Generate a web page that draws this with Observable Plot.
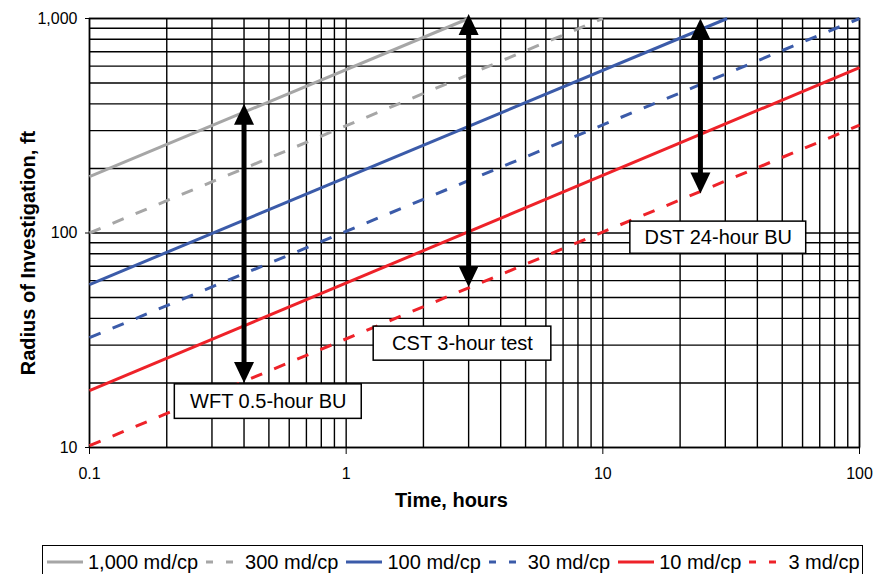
<!DOCTYPE html>
<html><head><meta charset="utf-8">
<script src="https://cdn.jsdelivr.net/npm/d3@7"></script>
<script src="https://cdn.jsdelivr.net/npm/@observablehq/plot@0.6"></script>
<style>
body{margin:0;background:#fff;font-family:"Liberation Sans",Arial,Helvetica,sans-serif;}
#wrap{position:relative;width:882px;height:574px;overflow:hidden;background:#fff;}
#chart{position:absolute;left:0;top:0;}
#legend{position:absolute;left:42px;top:545px;width:821px;height:34px;border:1px solid #000;box-sizing:border-box;display:flex;align-items:center;font-size:20px;color:#000;white-space:nowrap;}
#legend .item{display:flex;align-items:center;}
#legend svg{display:block;}
</style></head><body>
<div id="wrap"><div id="chart"></div><div id="legend"></div></div>
<script>
// Series (permeability / viscosity)
const seriesNames  = ["1,000 md/cp","300 md/cp","100 md/cp","30 md/cp","10 md/cp","3 md/cp"];
const seriesColors = ["#a6a6a6","#a6a6a6","#3b5ba9","#3b5ba9","#ee2229","#ee2229"];
const seriesDashed = [false,true,false,true,false,true];
// straight lines on log-log axes: start and end points
const startTime   = [0.1, 0.1, 0.1, 0.1, 0.1, 0.1];
const startRadius = [183, 100, 57.5, 32.5, 18.4, 10.2];
const endTime     = [3, 10, 30.5, 100, 100, 100];
const endRadius   = [1000, 1000, 1000, 1000, 590, 318];

// Double-headed arrows
const arrowTime = [0.4, 3, 24];
const arrowLow  = [20, 56, 153];
const arrowHigh = [400, 1050, 1000];

// Boxed annotation labels (extent in data units)
const boxLabels = ["WFT 0.5-hour BU","CST 3-hour test","DST 24-hour BU"];
const boxT1 = [0.215, 1.28, 12.8];
const boxT2 = [1.15, 6.3, 62];
const boxR1 = [13.6, 25.4, 80];
const boxR2 = [19.7, 36.6, 113];

const xTicks = [0.1, 1, 10, 100];
const yTicks = [10, 100, 1000];
const xTitle = "Time, hours";
const yTitle = "Radius of Investigation, ft";

const FONT = '"Liberation Sans", Arial, Helvetica, sans-serif';

const gridT = d3.scaleLog().domain([0.1, 100]).ticks();
const gridR = d3.scaleLog().domain([10, 1000]).ticks();

const lineMarks = seriesNames.map((name, i) => Plot.line(
  [{t: startTime[i], r: startRadius[i]}, {t: endTime[i], r: endRadius[i]}],
  {x: "t", y: "r", stroke: seriesColors[i], strokeWidth: 3,
   strokeDasharray: seriesDashed[i] ? "12,13" : null, strokeLinecap: "butt"}
));

const arrows = arrowTime.map((t, i) => ({t, low: arrowLow[i], high: arrowHigh[i]}));
const boxes = boxLabels.map((label, i) => ({label, t1: boxT1[i], t2: boxT2[i], r1: boxR1[i], r2: boxR2[i]}));

const headUp = {draw(ctx) { ctx.moveTo(0, 0); ctx.lineTo(10, 21); ctx.lineTo(-10, 21); ctx.closePath(); }};
const headDown = {draw(ctx) { ctx.moveTo(0, 0); ctx.lineTo(10, -21); ctx.lineTo(-10, -21); ctx.closePath(); }};

const chart = Plot.plot({
  width: 882, height: 535,
  marginLeft: 89, marginRight: 23, marginTop: 18, marginBottom: 88,
  style: {fontFamily: FONT, fontSize: "16px", color: "#000", background: "white", overflow: "visible"},
  x: {type: "log", domain: [0.1, 100], ticks: xTicks, tickFormat: d => String(d), label: null, tickSize: 7, tickPadding: 13},
  y: {type: "log", domain: [10, 1000], ticks: yTicks, tickFormat: d3.format(","), label: null, tickSize: 4, tickPadding: 8},
  marks: [
    Plot.ruleX(gridT, {stroke: "#000", strokeWidth: 1.4}),
    Plot.ruleY(gridR, {stroke: "#000", strokeWidth: 1.4}),
    Plot.frame({stroke: "#000", strokeWidth: 1.5}),
    ...lineMarks,
    Plot.arrow(arrows, {x1: "t", x2: "t", y1: "low", y2: "high", stroke: "#000", strokeWidth: 5,
      headLength: 0, insetStart: 14, insetEnd: 14, strokeLinecap: "butt"}),
    Plot.dot(arrows, {x: "t", y: "high", symbol: headUp, r: 5, fill: "#000", stroke: "none"}),
    Plot.dot(arrows, {x: "t", y: "low", symbol: headDown, r: 5, fill: "#000", stroke: "none"}),
    Plot.rect(boxes, {x1: "t1", x2: "t2", y1: "r1", y2: "r2", fill: "white", stroke: "#000", strokeWidth: 1.5}),
    Plot.text(boxes, {x: d => Math.sqrt(d.t1 * d.t2), y: d => Math.sqrt(d.r1 * d.r2), text: "label",
      fontSize: 20, fill: "#000"}),
    Plot.text([xTitle], {text: d => d, frameAnchor: "bottom", textAnchor: "middle", dx: -23, dy: 59, fontSize: 20, fontWeight: "bold", fill: "#000"}),
    Plot.text([yTitle], {text: d => d, frameAnchor: "left", textAnchor: "middle", dx: -61, dy: 20, rotate: -90, fontSize: 20, fontWeight: "bold", fill: "#000"})
  ]
});
document.getElementById("chart").appendChild(chart);

// Legend
const legend = document.getElementById("legend");
seriesNames.forEach((name, i) => {
  const item = document.createElement("div");
  item.className = "item";
  const w = seriesDashed[i] ? 27 : 36;
  const ns = "http://www.w3.org/2000/svg";
  const svg = document.createElementNS(ns, "svg");
  svg.setAttribute("width", w); svg.setAttribute("height", 8);
  const ln = document.createElementNS(ns, "line");
  ln.setAttribute("x1", 0); ln.setAttribute("x2", w); ln.setAttribute("y1", 4); ln.setAttribute("y2", 4);
  ln.setAttribute("stroke", seriesColors[i]); ln.setAttribute("stroke-width", 3);
  if (seriesDashed[i]) ln.setAttribute("stroke-dasharray", "7,13");
  svg.appendChild(ln);
  svg.style.marginLeft = (i === 0 ? 4 : 8) + "px";
  const span = document.createElement("span");
  span.textContent = name;
  span.style.marginLeft = (seriesDashed[i] ? 12 : 5) + "px";
  item.appendChild(svg); item.appendChild(span);
  legend.appendChild(item);
});
</script>
</body></html>
